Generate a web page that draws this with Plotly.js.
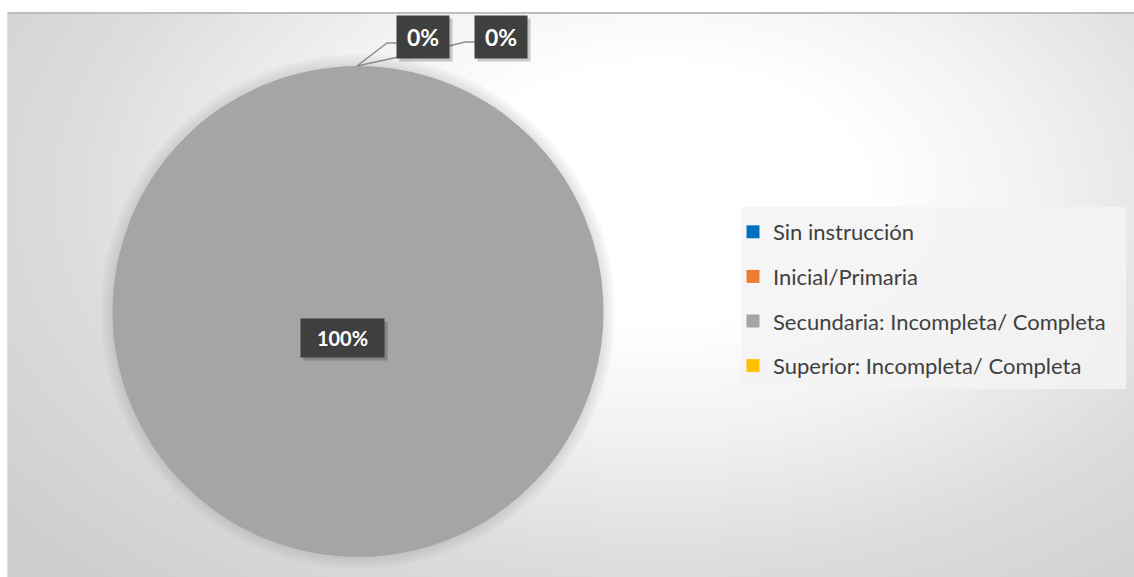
<!DOCTYPE html>
<html>
<head>
<meta charset="utf-8">
<script src="https://cdn.plot.ly/plotly-3.0.1.min.js"></script>
<style>
  html, body { margin: 0; padding: 0; background: #ffffff; }
  #wrap { position: relative; width: 1134px; height: 577px; overflow: hidden; }
  #bg { position: absolute; left: 7px; top: 12px; width: 1127px; height: 565px;
        background: radial-gradient(ellipse 75% 95% at 58% 32%, #ffffff 0%, #ffffff 24%, #f2f2f2 44%, #dcdcdc 70%, #cdcdcd 100%);
        border-top: 2px solid #bdbdbd; border-left: 1px solid #e2e2e2; box-sizing: border-box; }
  #chart { position: absolute; left: 0; top: 0; width: 1134px; height: 577px; }
</style>
</head>
<body>
<div id="wrap">
  <div id="bg"></div>
  <div id="chart"></div>
</div>
<script>
const categories = ["Sin instrucción", "Inicial/Primaria", "Secundaria: Incompleta/ Completa", "Superior: Incompleta/ Completa"];
const values = [0, 0, 100, 0];
const colors = ["#0070C0", "#ED7D31", "#A5A5A5", "#FFC000"];

const W = 1134, H = 577;
const px = x => x / W;
const py = y => (H - y) / H;

const total = values.reduce((a, b) => a + b, 0);
const pct = values.map(v => Math.round(100 * v / total) + "%");

// pie geometry (pixels)
const pieLeft = 112, pieRight = 604, pieTop = 66, pieBottom = 557;
const cx = (pieLeft + pieRight) / 2;
const cy = (pieTop + pieBottom) / 2;
const R = (pieRight - pieLeft) / 2;

const traces = [{
  type: "pie",
  labels: categories,
  values: values,
  sort: false,
  direction: "clockwise",
  marker: { colors: colors, line: { width: 0 } },
  textinfo: "none",
  hoverinfo: "label+percent",
  showlegend: false,
  domain: { x: [px(pieLeft), px(pieRight)], y: [py(pieBottom), py(pieTop)] }
}];

categories.forEach((c, i) => {
  traces.push({
    type: "scatter", mode: "markers", x: [null], y: [null],
    name: c, legendgroup: "g" + i,
    marker: { symbol: "square", size: 13, color: colors[i] },
    showlegend: true, hoverinfo: "skip"
  });
});

// label boxes: the two zero slices (first two) and the main slice
const zeroIdx = [0, 1];
const boxCenters = [[423, 37], [501, 37]];
const annotations = [];
const shadow = (x, y, w, h) => ({
  xref: "paper", yref: "paper", x: px(x), y: py(y), xanchor: "center", yanchor: "middle",
  text: " ", showarrow: false,
  width: w, height: h, bgcolor: "rgba(0,0,0,0.2)", xshift: 3, yshift: -3,
  font: { size: 10, color: "rgba(0,0,0,0)" }
});
zeroIdx.forEach((idx, k) => {
  const [bx, by] = boxCenters[k];
  annotations.push(shadow(bx, by, 50, 40));
  annotations.push({
    xref: "paper", yref: "paper", x: px(bx), y: py(by), xanchor: "center", yanchor: "middle",
    text: "<b>" + pct[idx] + "</b>",
    showarrow: false, width: 50, height: 40, bgcolor: "#3f3f3f",
    font: { family: "Lato, sans-serif", size: 23, color: "#ffffff" }
  });
});
const mainIdx = 2;
annotations.push(shadow(342, 338, 81, 36));
annotations.push({
  xref: "paper", yref: "paper", x: px(342), y: py(338), xanchor: "center", yanchor: "middle",
  text: "<b>" + pct[mainIdx] + "</b>",
  showarrow: false, width: 81, height: 36, bgcolor: "#3f3f3f",
  font: { family: "Lato, sans-serif", size: 20, color: "#ffffff" }
});

const P = (x, y) => px(x).toFixed(5) + "," + py(y).toFixed(5);
const shapes = [];
// legend panel background
shapes.push({ type: "rect", xref: "paper", yref: "paper", layer: "below",
  x0: px(741), x1: px(1126), y0: py(389), y1: py(207),
  fillcolor: "rgba(243,243,243,0.85)", line: { width: 0 } });
// soft halo around the pie
[11, 8, 5, 2].forEach(d => {
  shapes.push({ type: "circle", xref: "paper", yref: "paper", layer: "below",
    x0: px(cx - R - d), x1: px(cx + R + d), y0: py(cy + R + d), y1: py(cy - R - d),
    fillcolor: "rgba(120,120,120,0.05)", line: { width: 0 } });
});
shapes.push(
  { type: "path", xref: "paper", yref: "paper", layer: "above",
    path: "M" + P(cx - 1, pieTop) + " L" + P(387, 43) + " L" + P(399, 43),
    line: { color: "#8c8c8c", width: 1.5 } },
  { type: "path", xref: "paper", yref: "paper", layer: "above",
    path: "M" + P(cx - 1, pieTop) + " L" + P(449, 46) + " L" + P(465, 42) + " L" + P(478, 42),
    line: { color: "#8c8c8c", width: 1.5 } }
);

const layout = {
  width: W, height: H,
  margin: { l: 0, r: 0, t: 0, b: 0 },
  paper_bgcolor: "rgba(0,0,0,0)",
  plot_bgcolor: "rgba(0,0,0,0)",
  xaxis: { visible: false, range: [0, 1], fixedrange: true },
  yaxis: { visible: false, range: [0, 1], fixedrange: true },
  showlegend: true,
  legend: {
    x: px(733), y: py(211), xanchor: "left", yanchor: "top",
    bgcolor: "rgba(0,0,0,0)", borderwidth: 0,
    font: { family: "Lato, sans-serif", size: 22, color: "#404040" },
    itemwidth: 30,
    tracegroupgap: 13, itemclick: false, itemdoubleclick: false
  },
  annotations: annotations,
  shapes: shapes
};

Plotly.newPlot("chart", traces, layout, { displayModeBar: false, staticPlot: true });
</script>
</body>
</html>
